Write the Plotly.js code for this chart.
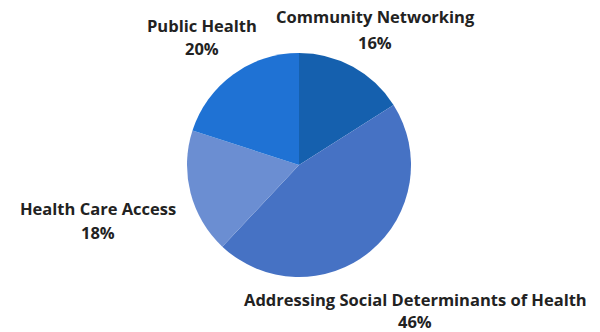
<!DOCTYPE html>
<html>
<head>
<meta charset="utf-8">
<script src="https://cdn.plot.ly/plotly-3.0.1.min.js"></script>
<style>html,body{margin:0;padding:0;background:#fff;}#chart{width:600px;height:332px;}</style>
</head>
<body>
<div id="chart"></div>
<script>
const labels = ["Community Networking", "Addressing Social Determinants of Health", "Health Care Access", "Public Health"];
const values = [16, 46, 18, 20];
const colors = ["#1560ae", "#4672c4", "#6b8ed2", "#1f72d4"];
// label anchor positions in pixels: [centre x, name line y, percent line y] (layout only)
const labelPos = [[375, 17, 42], [415, 299, 321], [98, 209, 233], [202, 25, 48]];

const W = 600, H = 332;
const font = {family: "Open Sans, sans-serif", size: 16.5, color: "#222222"};
const annotations = [];
labels.forEach((l, i) => {
  annotations.push({
    text: "<b>" + l + "</b>", x: labelPos[i][0] / W, y: 1 - labelPos[i][1] / H,
    xref: "paper", yref: "paper", xanchor: "center", yanchor: "middle",
    showarrow: false, font: font, borderpad: 0
  });
  annotations.push({
    text: "<b>" + values[i] + "%</b>", x: labelPos[i][0] / W, y: 1 - labelPos[i][2] / H,
    xref: "paper", yref: "paper", xanchor: "center", yanchor: "middle",
    showarrow: false, font: font, borderpad: 0
  });
});

Plotly.newPlot("chart", [{
  type: "pie",
  labels: labels,
  values: values,
  sort: false,
  direction: "clockwise",
  rotation: 0,
  marker: {colors: colors, line: {width: 0}},
  textinfo: "none",
  hoverinfo: "label+percent",
  domain: {x: [(299 - 112) / W, (299 + 112) / W], y: [1 - 277 / H, 1 - 53 / H]}
}], {
  width: W, height: H,
  margin: {l: 0, r: 0, t: 0, b: 0},
  showlegend: false,
  paper_bgcolor: "#ffffff",
  annotations: annotations
}, {displayModeBar: false, staticPlot: true});
</script>
</body>
</html>
